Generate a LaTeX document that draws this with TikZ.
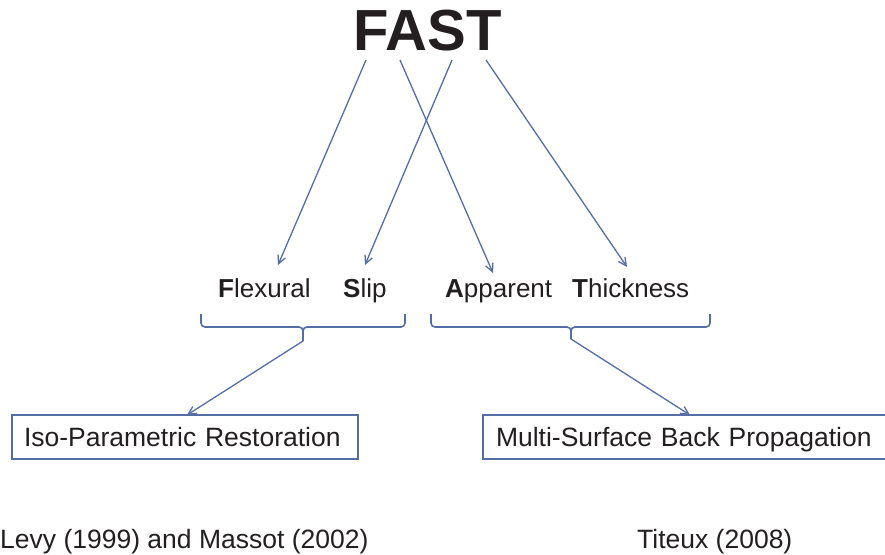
\documentclass[tikz,border=0pt]{standalone}
\usepackage{fontspec}
\setmainfont{Liberation Sans}
\usetikzlibrary{arrows.meta}
\definecolor{ln}{RGB}{84,110,165}
\definecolor{tx}{RGB}{35,31,32}
\begin{document}
\begin{tikzpicture}[x=1pt,y=-1pt,
  lbl/.style={inner sep=0pt, anchor=base west, text=tx, font=\fontsize{26}{30}\selectfont},
  ref/.style={inner sep=0pt, anchor=base west, text=tx, font=\fontsize{26.5}{30}\selectfont},
  arr/.style={draw=ln, line width=1.3pt, -{Straight Barb[length=8pt,width=8pt,line width=1.3pt]}},
  brc/.style={draw=ln, line width=1.6pt, rounded corners=4pt},
  boxn/.style={draw=ln, line width=1.3pt, text=tx, font=\fontsize{26.5}{30}\selectfont,
    minimum height=44pt, text height=18.5pt, text depth=0pt, align=left, inner ysep=0pt}]
\clip (0,0) rectangle (885,554);
\fill[white] (0,0) rectangle (885,554);

\node[inner sep=0pt, anchor=base, text=tx, font=\fontsize{58}{64}\selectfont\bfseries] (fast) at (427.5,50) {FAST};

\node[lbl] (fl) at (218,297.5) {\textbf{F}lexural};
\node[lbl] (sl) at (343,297.5) {\textbf{S}lip};
\node[lbl] (ap) at (445,297.5) {\textbf{A}pparent};
\node[lbl] (th) at (572,297.5) {\textbf{T}hickness};

\coordinate (s1) at (366,60);
\coordinate (s2) at (400,60);
\coordinate (s3) at (452,60);
\coordinate (s4) at (486,60);
\coordinate (t1) at (278,265);
\coordinate (t2) at (493,273);
\coordinate (t3) at (365,265);
\coordinate (t4) at (627,267);
\draw[arr] (s1) -- (t1);
\draw[arr] (s2) -- (t2);
\draw[arr] (s3) -- (t3);
\draw[arr] (s4) -- (t4);

% braces
\coordinate (lb) at (303,341);
\coordinate (rb) at (571,339);
\draw[brc] (201,314) -- (201,327) -- (303,327) -- (lb);
\draw[brc] (405,314) -- (405,327) -- (303,327) -- (lb);
\draw[brc] (431,314) -- (431,327) -- (571,327) -- (rb);
\draw[brc] (710,314) -- (710,327) -- (571,327) -- (rb);

\node[boxn, minimum width=346pt, text width=322pt, inner xsep=12pt] (iso) at (185,437) {Iso-Parametric Restoration};
\node[boxn, minimum width=420pt, text width=394pt, inner xsep=13pt] (msb) at (693,437) {Multi-Surface Back Propagation};

\coordinate (t5) at (187,415);
\coordinate (t6) at (690,415);
\draw[arr] (lb) -- (t5);
\draw[arr] (rb) -- (t6);

\node[ref] (levy) at (0,548) {Levy (1999) and Massot (2002)};
\node[ref] (tit) at (637,548) {Titeux (2008)};
\end{tikzpicture}
\end{document}
